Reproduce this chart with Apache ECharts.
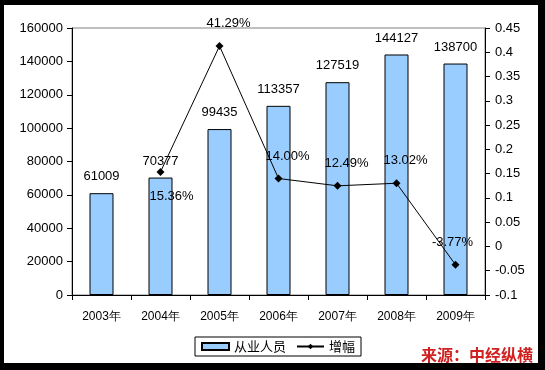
<!DOCTYPE html>
<html><head><meta charset="utf-8">
<script src="https://cdn.jsdelivr.net/npm/echarts@6/dist/echarts.min.js"></script>
<style>html,body{margin:0;padding:0;background:#000;}#c{width:545px;height:370px;}</style>
</head><body><div id="c"></div>
<script>
const categories = ['2003年','2004年','2005年','2006年','2007年','2008年','2009年'];
const employees = [61009, 70377, 99435, 113357, 127519, 144127, 138700];
const growth = [null, 0.1536, 0.4129, 0.1400, 0.1249, 0.1302, -0.0377];
const growthLabels = ['', '15.36%', '41.29%', '14.00%', '12.49%', '13.02%', '-3.77%'];
const barName = '从业人员';
const lineName = '增幅';
const source = '来源：中经纵横';

const font = 'Liberation Sans, Arial, sans-serif';
const chart = echarts.init(document.getElementById('c'));
const lineData = growth.map((v, i) => {
  const d = { value: v };
  if (i === 1) d.label = { position: 'bottom', offset: [11, 2] };
  if (i === 6) d.label = { offset: [-3, 0] };
  return d;
});
chart.setOption({
  backgroundColor: '#000',
  animation: false,
  graphic: [
    { type: 'rect', z: -10, shape: { x: 4, y: 5, width: 534, height: 358 }, style: { fill: '#fff' } },
    { type: 'text', left: 421, top: 347, style: { text: source, fill: '#d02020', font: 'bold 16px "Noto Sans CJK SC", sans-serif' } }
  ],
  grid: { left: 72, right: 60, top: 28, bottom: 75, show: true, borderColor: '#808080', borderWidth: 1 },
  legend: {
    left: 195, top: 337, itemGap: 10, itemWidth: 27, itemHeight: 7,
    padding: [3, 6, 3, 6], borderColor: '#000', borderWidth: 1,
    textStyle: { fontFamily: '"Noto Sans CJK SC", sans-serif', fontSize: 13, color: '#000' },
    data: [{ name: barName, icon: 'rect' }, { name: lineName }]
  },
  xAxis: {
    type: 'category', data: categories,
    axisLine: { lineStyle: { color: '#000' } },
    axisTick: { show: true, length: 5, lineStyle: { color: '#000' } },
    axisLabel: { color: '#000', fontSize: 12, fontFamily: font, margin: 16 }
  },
  yAxis: [
    { type: 'value', min: 0, max: 160000, interval: 20000, splitLine: { show: false },
      axisLine: { show: true, lineStyle: { color: '#000' } },
      axisTick: { show: true, length: 5, lineStyle: { color: '#000' } },
      axisLabel: { color: '#000', fontSize: 13, fontFamily: font, margin: 9, formatter: v => String(v) } },
    { type: 'value', min: -0.1, max: 0.45, interval: 0.05, splitLine: { show: false },
      axisLine: { show: true, lineStyle: { color: '#000' } },
      axisTick: { show: true, length: 5, lineStyle: { color: '#000' } },
      axisLabel: { color: '#000', fontSize: 13, fontFamily: font, margin: 10,
        formatter: v => { const r = Math.round(v * 100) / 100; return r === 0 ? '0' : String(r); } } }
  ],
  series: [
    { name: barName, type: 'bar', data: employees, barWidth: 24,
      itemStyle: { color: '#99ccff', borderColor: '#000', borderWidth: 1 },
      label: { show: true, position: 'top', distance: 10, color: '#000', fontSize: 13, fontFamily: font } },
    { name: lineName, type: 'line', yAxisIndex: 1, data: lineData, symbol: 'diamond', symbolSize: 8,
      lineStyle: { color: '#000', width: 1 }, itemStyle: { color: '#000' },
      label: { show: true, position: 'top', distance: 12, offset: [9, 0], color: '#000', fontSize: 13, fontFamily: font,
        formatter: p => growthLabels[p.dataIndex] } }
  ]
});
</script></body></html>
